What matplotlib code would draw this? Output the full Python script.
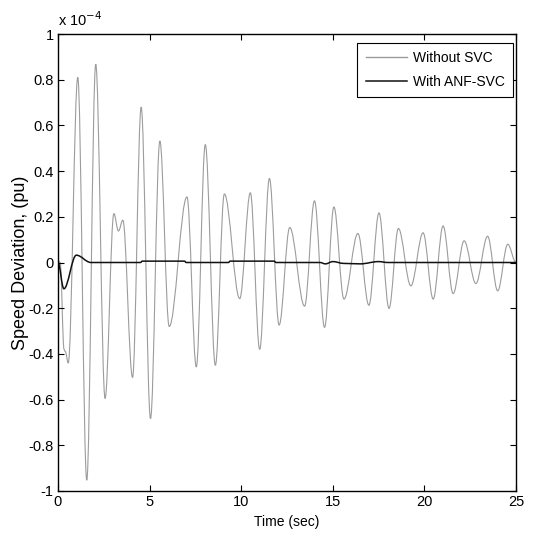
import numpy as np
import matplotlib
matplotlib.use("Agg")
import matplotlib.pyplot as plt
from matplotlib.path import Path
from matplotlib.patches import PathPatch
from matplotlib.lines import Line2D

plt.rcParams['font.family'] = ['Liberation Sans', 'DejaVu Sans']

# ---- data (speed deviation in units of 1e-4 pu) ----
# extrema / key points of the "Without SVC" response
t_without = [0.0, 0.12, 0.33, 0.40, 0.56, 1.08, 1.57, 2.06, 2.57, 3.05, 3.30, 3.54,
             4.07, 4.54, 5.05, 5.56, 6.07, 7.04, 7.55, 8.04, 8.59, 9.08, 9.92,
             10.50, 11.01, 11.54, 12.07, 12.65, 13.46, 14.00, 14.55, 15.06, 15.61,
             16.37, 16.97, 17.52, 18.07, 18.58, 19.26, 19.93, 20.48, 21.02, 21.57,
             22.17, 22.81, 23.45, 24.00, 24.55, 25.0]
y_without = [0.01, 0.0, -0.38, -0.39, -0.44, 0.81, -0.953, 0.868, -0.595, 0.214, 0.138, 0.185,
             -0.503, 0.68, -0.683, 0.532, -0.28, 0.287, -0.457, 0.516, -0.45, 0.30, -0.158,
             0.305, -0.38, 0.368, -0.274, 0.153, -0.191, 0.27, -0.284, 0.243, -0.16,
             0.127, -0.187, 0.217, -0.201, 0.149, -0.102, 0.13, -0.16, 0.16, -0.136,
             0.095, -0.092, 0.115, -0.124, 0.08, 0.0]

# key points of the "With ANF-SVC" response
t_with = [0.0, 0.32, 1.0, 1.8, 4.5, 4.6, 6.9, 7.0, 9.3, 9.4, 11.8, 11.9,
          14.3, 14.6, 15.0, 15.6, 16.5, 17.5, 18.0, 25.0]
y_with = [0.0, -0.115, 0.032, 0.0, 0.0, 0.006, 0.006, 0.0, 0.0, 0.006, 0.006, 0.0,
          0.0, -0.006, 0.004, -0.004, -0.006, 0.004, 0.0, 0.0]

labels = ['Without SVC', 'With ANF-SVC']
x_ticks = [0, 5, 10, 15, 20, 25]
y_ticks = [-1, -0.8, -0.6, -0.4, -0.2, 0, 0.2, 0.4, 0.6, 0.8, 1]
y_ticklabels = ['-1', '-0.8', '-0.6', '-0.4', '-0.2', '0', '0.2', '0.4', '0.6', '0.8', '1']


def smooth_path(ts, ys, k=0.36):
    verts = [(ts[0], ys[0])]
    codes = [Path.MOVETO]
    for i in range(len(ts) - 1):
        dt = ts[i + 1] - ts[i]
        verts += [(ts[i] + k * dt, ys[i]), (ts[i + 1] - k * dt, ys[i + 1]), (ts[i + 1], ys[i + 1])]
        codes += [Path.CURVE4] * 3
    return Path(verts, codes)


fig = plt.figure(figsize=(5.42, 5.40), dpi=100)
ax = fig.add_axes([58 / 542, 1 - 491 / 540, (516 - 58) / 542, (491 - 34) / 540])

gray = '#9c9c9c'
black = '#111111'
ax.add_patch(PathPatch(smooth_path(t_without, y_without), fill=False, edgecolor=gray, lw=0.8))
ax.add_patch(PathPatch(smooth_path(t_with, y_with), fill=False, edgecolor=black, lw=1.1))

ax.set_xlim(0, 25)
ax.set_ylim(-1, 1)
ax.set_xticks(x_ticks)
ax.set_xticklabels([str(v) for v in x_ticks])
ax.set_yticks(y_ticks)
ax.set_yticklabels(y_ticklabels)
ax.tick_params(direction='in', length=4, width=0.8, top=True, right=True, labelsize=10.5, pad=3)
for s in ax.spines.values():
    s.set_linewidth(1.0)

ax.set_xlabel('Time (sec)', fontsize=10, labelpad=4)
ax.set_ylabel('Speed Deviation, (pu)', fontsize=13, labelpad=0)
ax.text(0.0, 1.012, 'x 10$^{-4}$', transform=ax.transAxes, fontsize=10.5, ha='left', va='bottom')

handles = [Line2D([], [], color=gray, lw=1.0), Line2D([], [], color=black, lw=1.1)]
leg = ax.legend(handles, labels, loc='upper right', bbox_to_anchor=(0.9934, 0.9803),
                fontsize=10, fancybox=False, edgecolor='black', framealpha=1,
                handlelength=3.0, borderaxespad=0.0, handletextpad=0.4, borderpad=0.6,
                labelspacing=0.7)
leg.get_frame().set_linewidth(0.8)

fig.savefig('out.png', dpi=100)
